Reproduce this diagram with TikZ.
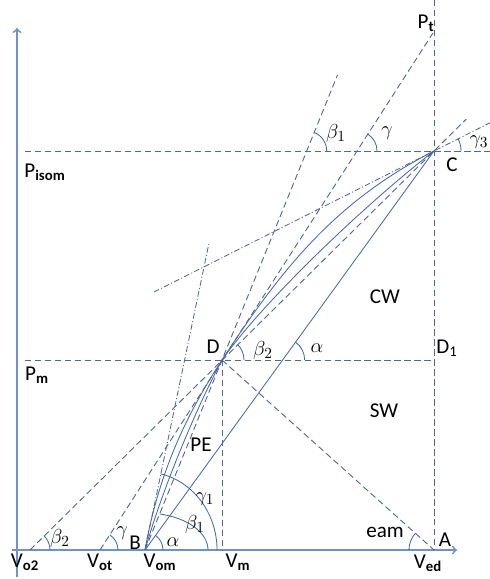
\documentclass[tikz,border=0pt]{standalone}
\usepackage{fontspec}
\setmainfont{Carlito}
\usepackage{tikz}
\usetikzlibrary{calc, positioning}

\definecolor{axisblue}{RGB}{112,146,198}
\definecolor{guideblue}{RGB}{84,100,150}
\definecolor{pathblue}{RGB}{72,104,168}

\begin{document}
\begin{tikzpicture}[x=0.025cm, y=0.025cm,
			axis/.style={draw=axisblue, line width=1.3pt, ->},
			guide/.style={draw=guideblue, line width=0.65pt, dash pattern=on 4.5pt off 2.6pt},
			chain/.style={draw=guideblue, line width=0.6pt, dash pattern=on 4pt off 1.6pt on 0.8pt off 1.6pt},
			solidline/.style={draw=pathblue, line width=0.6pt},
			angarc/.style={draw=pathblue, line width=0.6pt},
			lbl/.style={font=\fontsize{15}{18}\selectfont, inner sep=0pt, text=black}]

		\useasboundingbox (0,0) rectangle (490,579);

		% Define points
		\coordinate (Ybot) at (17,2);
		\coordinate (Ytop) at (17,551);
		\coordinate (Xl) at (12,29);
		\coordinate (Xr) at (457,29);
		\coordinate (Vo2) at (30,29);
		\coordinate (Vot) at (100,29);
		\coordinate (B) at (145,29);
		\coordinate (Vm) at (222,29);
		\coordinate (Ved) at (434,29);
		\coordinate (D) at (222,219);
		\coordinate (C) at (434,428);
		\coordinate (Pt) at (433,546);
		\coordinate (Atop) at (434,579);
		\coordinate (Pm0) at (25,219);
		\coordinate (D1) at (434,219);
		\coordinate (Pi0) at (25,428);
		\coordinate (Pi1) at (490,428);
		\coordinate (G1end) at (209,336);
		\coordinate (G3start) at (154,287);

		% Axes
		\draw[axis] (Ybot) -- (Ytop);
		\draw[axis] (Xl) -- (Xr);

		% Draw guide lines
		\draw[guide] (Pi0) -- (Pi1);
		\draw[guide] (Pm0) -- (D1);
		\draw[guide] (Atop) -- (Ved);
		\draw[guide] (D) -- (Vm);
		\draw[guide] (D) -- (Ved);
		\draw[guide] (Vo2) -- ($(Vo2)!1.08!(C)$);
		\draw[guide] (Vot) -- (Pt);
		\draw[guide] (B) -- ($(B)!2.5!(D)$);
		\draw[chain] (B) -- (G1end);
		\draw[chain] (G3start) -- ($(G3start)!1.2!(C)$);

		% Draw process lines
		\draw[solidline] (B) -- (C);
		\draw[solidline] (B) .. controls (160.6,117.6) and (194.9,177) .. (D)
			.. controls (282,311) and (336,378) .. (C);
		\draw[solidline] (B) .. controls (161.5,86.7) and (193.8,166) .. (D)
			.. controls (262,276) and (363,373) .. (C);

		% Angle marks
		\coordinate (Xa) at (intersection of B--C and Pm0--D1);
		\coordinate (Xb) at (intersection of B--D and Pi0--Pi1);
		\coordinate (Xg) at (intersection of Vot--Pt and Pi0--Pi1);
		\foreach \c/\a/\b/\r in {B/0/54/0.45cm, Vo2/0/45/0.5cm, Vot/0/57/0.45cm,
				D/0/45/0.55cm, Xa/0/54/0.55cm, Xb/0/68/0.5cm, Xg/0/57/0.5cm,
				C/0/27/0.675cm, Ved/138/180/0.625cm}
			{
				\draw[angarc] ($(\c)+(\a:\r)$) arc[start angle=\a, end angle=\b, radius=\r];
			}
		\draw[angarc] ($(B)+(1.575cm,0)$) arc[start angle=0, end angle=76.6, x radius=1.575cm, y radius=0.925cm];
		\draw[angarc] ($(B)+(1.8cm,0)$) arc[start angle=0, end angle=77.6, x radius=1.8cm, y radius=1.95cm];

		% Labels
		\node[lbl] (lPt) at (426,556) {P\textsubscript{\textbf{t}}};
		\node[lbl] (lPisom) at (45,407) {P\textsubscript{\textbf{isom}}};
		\node[lbl] (lPm) at (37,204) {P\textsubscript{\textbf{m}}};
		\node[lbl] (lD) at (213,232) {D};
		\node[lbl] (lD1) at (447,231) {D\textsubscript{1}};
		\node[lbl] (lC) at (452,414) {C};
		\node[lbl] (lCW) at (385,282) {CW};
		\node[lbl] (lSW) at (384,168) {SW};
		\node[lbl] (lPE) at (201,134) {PE};
		\node[lbl] (lg1) at (205,80) {$\gamma_1$};
		\node[lbl] (lb1) at (195,55) {$\beta_1$};
		\node[lbl] (la) at (173,37) {$\alpha$};
		\node[lbl] (lB) at (135,36) {B};
		\node[lbl] (lg) at (122,46) {$\gamma$};
		\node[lbl] (lb2) at (60,41) {$\beta_2$};
		\node[lbl] (leam) at (385,47) {eam};
		\node[lbl] (lA) at (445,39) {A};
		\node[lbl] (lb2D) at (263,229) {$\beta_2$};
		\node[lbl] (laD) at (317,231) {$\alpha$};
		\node[lbl] (lb1top) at (336,446) {$\beta_1$};
		\node[lbl] (lgtop) at (387,446) {$\gamma$};
		\node[lbl] (lg3) at (479,437) {$\gamma_3$};
		\node[lbl] (lVo2) at (25,17) {V\textsubscript{\textbf{o2}}};
		\node[lbl] (lVot) at (100,17) {V\textsubscript{\textbf{ot}}};
		\node[lbl] (lVom) at (160,17) {V\textsubscript{\textbf{om}}};
		\node[lbl] (lVm) at (238,17) {V\textsubscript{\textbf{m}}};
		\node[lbl] (lVed) at (428,16) {V\textsubscript{\textbf{ed}}};

	\end{tikzpicture}
\end{document}
